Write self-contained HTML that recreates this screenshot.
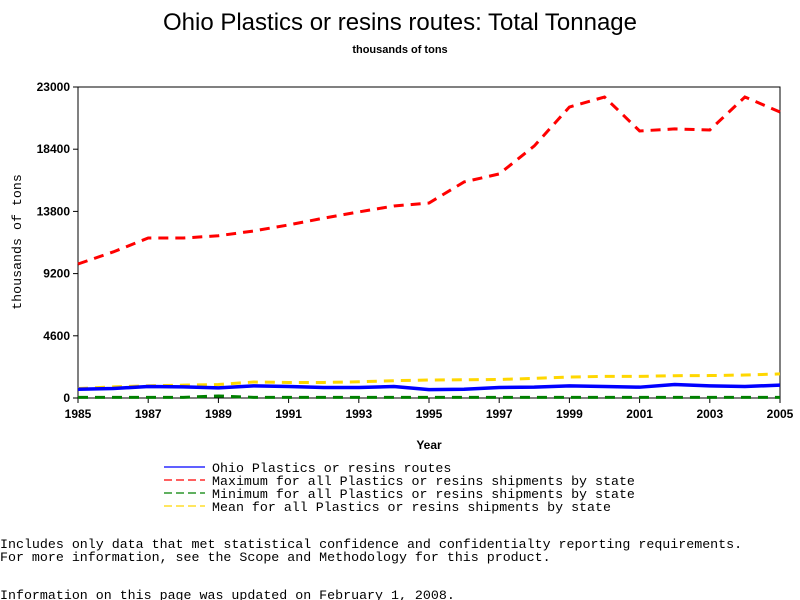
<!DOCTYPE html>
<html><head><meta charset="utf-8"><style>
body{margin:0;background:#fff;width:800px;height:600px;overflow:hidden}
svg{display:block}
.mono{font-family:"Liberation Mono","DejaVu Sans Mono",monospace;font-size:13.3px}
.tick{font-family:"Liberation Sans",sans-serif;font-size:12px;font-weight:bold}
</style></head><body>
<svg id="chart" width="800" height="600">
<text x="400" y="30" text-anchor="middle" font-family="Liberation Sans,sans-serif" font-size="24">Ohio Plastics or resins routes: Total Tonnage</text>
<text x="400" y="53" text-anchor="middle" font-family="Liberation Sans,sans-serif" font-size="11" font-weight="bold">thousands of tons</text>
<text transform="translate(21,242) rotate(-90)" text-anchor="middle" class="mono" font-size="12">thousands of tons</text>
<text x="429" y="449" text-anchor="middle" class="tick">Year</text>
<g id="axes"></g>
<g id="series"></g>
<g>
<line x1="164" y1="467" x2="205" y2="467" stroke="#0000ff" stroke-width="1.3"/>
<line x1="164" y1="480" x2="205" y2="480" stroke="#ff0000" stroke-width="1.3" stroke-dasharray="8,4"/>
<line x1="164" y1="493" x2="205" y2="493" stroke="#008000" stroke-width="1.3" stroke-dasharray="8,4"/>
<line x1="164" y1="506" x2="205" y2="506" stroke="#ffd700" stroke-width="1.3" stroke-dasharray="8,4"/>
<text x="212" y="472" class="mono">Ohio Plastics or resins routes</text>
<text x="212" y="485" class="mono">Maximum for all Plastics or resins shipments by state</text>
<text x="212" y="498" class="mono">Minimum for all Plastics or resins shipments by state</text>
<text x="212" y="511" class="mono">Mean for all Plastics or resins shipments by state</text>
</g>
<text x="0" y="548" class="mono">Includes only data that met statistical confidence and confidentialty reporting requirements.</text>
<text x="0" y="561" class="mono">For more information, see the Scope and Methodology for this product.</text>
<text x="0" y="599" class="mono">Information on this page was updated on February 1, 2008.</text>
</svg>
<script>
const years=[1985,1986,1987,1988,1989,1990,1991,1992,1993,1994,1995,1996,1997,1998,1999,2000,2001,2002,2003,2004,2005];
const ohio=[650,700,850,820,750,900,850,780,780,850,620,650,780,800,900,850,800,1000,900,850,950];
const maxv=[9910,10800,11830,11830,12000,12350,12800,13300,13760,14200,14420,15980,16570,18640,21520,22260,19750,19900,19820,22260,21150];
const minv=[50,50,50,50,150,50,50,50,50,50,50,50,50,50,50,50,50,50,50,50,50];
const meanv=[700,820,900,950,1000,1180,1150,1150,1200,1280,1330,1350,1370,1450,1550,1600,1600,1650,1660,1700,1780];
const yTicks=[0,4600,9200,13800,18400,23000];
const xTicks=[1985,1987,1989,1991,1993,1995,1997,1999,2001,2003,2005];
const L=78,R=780,T=87,B=398;
const xs=v=>L+(v-1985)/20*(R-L);
const ys=v=>B-v/23000*(B-T);
const NS='http://www.w3.org/2000/svg';
const ax=document.getElementById('axes');
function mk(tag,at,par){const e=document.createElementNS(NS,tag);for(const k in at)e.setAttribute(k,at[k]);par.appendChild(e);return e;}
const fr=mk('rect',{x:L,y:T,width:R-L,height:B-T,fill:'none',stroke:'#000','stroke-width':1},ax);


yTicks.forEach(v=>{
 mk('line',{x1:L-5,x2:L,y1:ys(v),y2:ys(v),stroke:'#000'},ax);
 const t=mk('text',{x:L-8,y:ys(v)+4,'text-anchor':'end',class:'tick'},ax);t.textContent=v;
 
 
});
xTicks.forEach(v=>{
 mk('line',{x1:xs(v),x2:xs(v),y1:B,y2:B+5,stroke:'#000'},ax);
 const t=mk('text',{x:xs(v),y:B+20,'text-anchor':'middle',class:'tick'},ax);t.textContent=v;
 
 
});
const sg=document.getElementById('series');
function line(vals,color,dash,w,name){
 const p=mk('polyline',{points:vals.map((v,i)=>xs(years[i])+','+ys(v)).join(' '),fill:'none',stroke:color,'stroke-width':w,'stroke-dasharray':dash},sg);
 
 
}
line(minv,'#008000','10,7',3,'minimum-line');
line(meanv,'#ffd700','10,7',3,'mean-line');
line(ohio,'#0000ff','none',3.5,'ohio-line');
line(maxv,'#ff0000','10,7',3,'maximum-line');
</script>
</body></html>
